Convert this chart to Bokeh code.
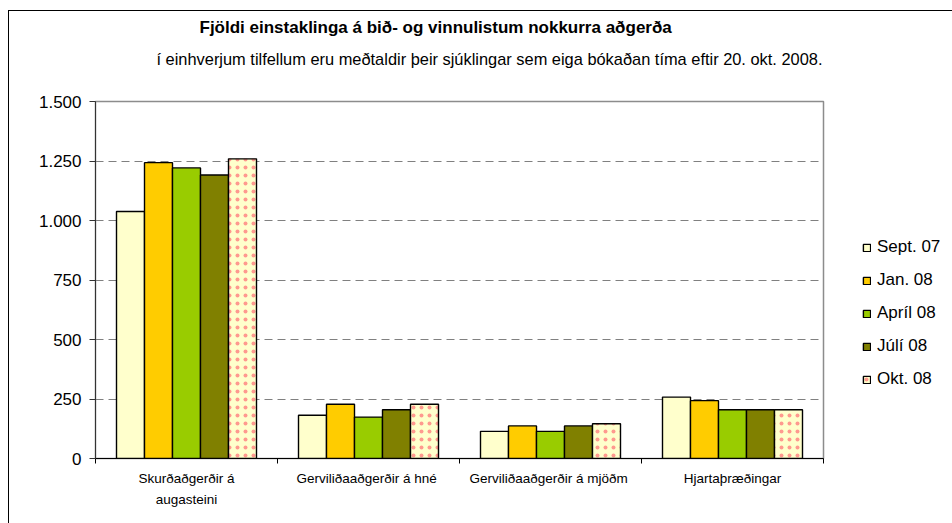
from bokeh.plotting import figure
from bokeh.layouts import column
from bokeh.models import (FixedTicker, Legend, LegendItem, Title, ColumnDataSource)
from bokeh.embed import file_html
from bokeh.resources import INLINE

# ---- data ----
categories = ["Skurðaðgerðir á\naugasteini", "Gerviliðaaðgerðir  á hné",
              "Gerviliðaaðgerðir  á mjöðm", "Hjartaþræðingar"]
series_names = ["Sept. 07", "Jan. 08", "Apríl 08", "Júlí 08", "Okt. 08"]
sept07 = [1038, 182, 114, 258]
jan08 = [1243, 228, 137, 243]
april08 = [1221, 174, 114, 205]
juli08 = [1191, 205, 137, 205]
okt08 = [1259, 228, 146, 205]
y_ticks = [0, 250, 500, 750, 1000, 1250, 1500]
y_tick_labels = ["0", "250", "500", "750", "1.000", "1.250", "1.500"]

title_text = "Fjöldi einstaklinga á bið- og vinnulistum nokkurra aðgerða"
subtitle_text = "í einhverjum tilfellum eru meðtaldir þeir sjúklingar sem eiga bókaðan tíma eftir 20. okt. 2008."

colors = ["#FFFFCC", "#FFCC00", "#99CC00", "#808000", "#FFFFCC"]
FONT = "Liberation Sans"

p = figure(frame_width=727, frame_height=356, output_backend="svg", toolbar_location=None,
           x_range=(0, len(categories)), y_range=(0, 1500),
           min_border_left=86, min_border_right=122, min_border_top=90,
           min_border_bottom=66)
p.styles = {"border-left": "1px solid #000000", "border-top": "1px solid #000000"}
p.outline_line_color = "#8c8c8c"
p.outline_line_width = 1.5
p.background_fill_color = "white"
p.border_fill_color = "white"

# titles: spacer nearest the frame, then subtitle, then main title outermost
p.add_layout(Title(text=" ", text_font=FONT, text_font_size="1px", standoff=23), "above")
p.add_layout(Title(text=subtitle_text, text_font=FONT, text_font_size="16.4px",
                   text_font_style="normal", text_color="#000000",
                   align="left", offset=61, standoff=16), "above")
p.title.text = title_text
p.title.text_font = FONT
p.title.text_font_size = "17px"
p.title.text_font_style = "bold"
p.title.text_color = "#000000"
p.title.align = "left"
p.title.offset = 104
p.title.standoff = 6

# grid
p.xgrid.visible = False
p.ygrid.ticker = FixedTicker(ticks=y_ticks[1:-1])
p.ygrid.grid_line_color = "#808080"
p.ygrid.grid_line_dash = "8 5"
p.ygrid.grid_line_width = 1

# y axis
p.yaxis.ticker = FixedTicker(ticks=y_ticks)
p.yaxis.major_label_overrides = {t: l for t, l in zip(y_ticks, y_tick_labels)}
p.yaxis.major_label_text_font = FONT
p.yaxis.major_label_text_font_size = "17px"
p.yaxis.major_label_text_color = "#000000"
p.yaxis.major_tick_out = 6
p.yaxis.major_tick_in = 0
p.yaxis.minor_tick_line_color = None
p.yaxis.axis_line_color = "#333333"
p.yaxis.major_tick_line_color = "#333333"
p.yaxis.major_label_standoff = 8

# x axis: labels at centers, ticks at boundaries
centers = [i + 0.5 for i in range(len(categories))]
p.xaxis.ticker = FixedTicker(ticks=centers, minor_ticks=list(range(len(categories) + 1)))
p.xaxis.major_label_overrides = {c: cat for c, cat in zip(centers, categories)}
p.xaxis.major_tick_line_color = None
p.xaxis.major_tick_out = 5
p.xaxis.minor_tick_out = 5
p.xaxis.minor_tick_in = 0
p.xaxis.minor_tick_line_color = "#000000"
p.xaxis.axis_line_color = "#000000"
p.xaxis.major_label_text_font = FONT
p.xaxis.major_label_text_font_size = "13.5px"
p.xaxis.major_label_text_color = "#000000"
p.xaxis.major_label_text_line_height = 1.4
p.xaxis.major_label_standoff = 7

# bars
series = [sept07, jan08, april08, juli08, okt08]
n = len(series)
bw = 1.0 / 6.5
renderers = []
for k, vals in enumerate(series):
    xs = [c + (k - (n - 1) / 2) * bw for c in centers]
    src = ColumnDataSource(dict(x=xs, top=vals))
    kw = {}
    if k == 4:
        kw = dict(hatch_pattern="dot", hatch_color="#FF8080", hatch_scale=8,
                  hatch_weight=0.8, hatch_alpha=0.8)
    r = p.vbar(x="x", top="top", bottom=0, width=bw, source=src,
               fill_color=colors[k], line_color="#000000", line_width=1.4, **kw)
    renderers.append(r)

legend = Legend(items=[LegendItem(label=nm, renderers=[r]) for nm, r in zip(series_names, renderers)],
                location=(39, 69), orientation="vertical",
                glyph_width=9, glyph_height=9, label_height=20, spacing=13,
                label_standoff=6, padding=0, margin=0,
                border_line_color=None, background_fill_alpha=0,
                label_text_font=FONT, label_text_font_size="17px",
                label_text_color="#000000")
p.add_layout(legend, "right")

page = column(p, styles={"background-color": "white", "padding-left": "8px",
                         "padding-top": "10px"})

open("out.html", "w").write(file_html(page, INLINE))
